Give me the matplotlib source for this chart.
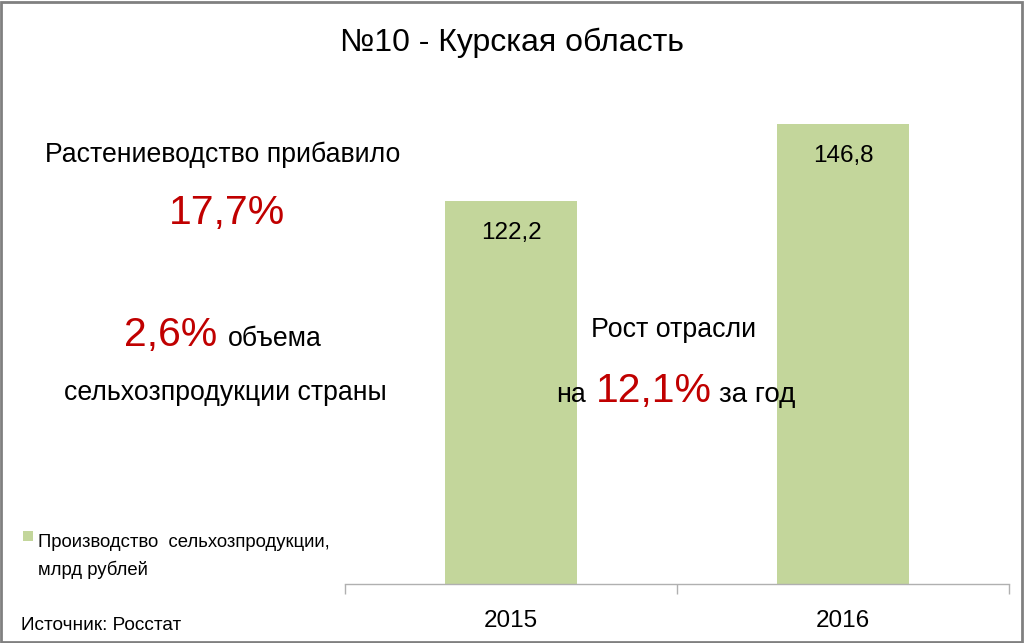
import matplotlib
matplotlib.use("Agg")
import matplotlib.pyplot as plt
from matplotlib.patches import Rectangle

plt.rcParams['font.family'] = ['Liberation Sans', 'DejaVu Sans']

years = ["2015", "2016"]
values = [122.2, 146.8]
value_labels = ["122,2", "146,8"]
series_name = "Производство  сельхозпродукции,\nмлрд рублей"
title = "№10 - Курская область"

green = "#c3d69b"
red = "#c00000"

W, H = 1024, 643
fig = plt.figure(figsize=(W / 100, H / 100), dpi=100)

def fx(px):
    return px / W

def fy(py):
    return 1 - py / H

# chart area
ax = fig.add_axes([fx(345), fy(584), fx(1009) - fx(345), fy(83) - fy(584)])
x = list(range(len(years)))
bars = ax.bar(x, values, width=0.4, color=green)
ax.set_xlim(-0.5, len(years) - 0.5)
ax.set_ylim(0, 160)
for s in ["top", "right", "left"]:
    ax.spines[s].set_visible(False)
ax.spines["bottom"].set_color("#b0b0b0")
ax.spines["bottom"].set_linewidth(1)
ax.set_yticks([])
ax.set_xticks(x)
ax.set_xticklabels(years, fontsize=17.5)
ax.tick_params(axis="x", which="major", length=0, pad=18.5)
ax.set_xticks([-0.5, 0.5, 1.5], minor=True)
ax.tick_params(axis="x", which="minor", length=7, color="#b0b0b0", width=1)

for xi, v, lab in zip(x, values, value_labels):
    ax.annotate(lab, (xi, v), xytext=(0, -27), textcoords="offset points",
                ha="center", va="baseline", fontsize=17.5)

# title
fig.text(0.5, fy(51), title, ha="center", va="baseline", fontsize=23)

# left annotations
fig.text(fx(45), fy(162), "Растениеводство прибавило", ha="left", va="baseline", fontsize=19.2)
fig.text(fx(227), fy(224), "17,7%", ha="center", va="baseline", fontsize=29.5, color=red)
fig.text(fx(124), fy(346), "2,6%", ha="left", va="baseline", fontsize=29.5, color=red)
fig.text(fx(228), fy(346), "объема", ha="left", va="baseline", fontsize=19.2)
fig.text(fx(64), fy(400), "сельхозпродукции страны", ha="left", va="baseline", fontsize=19.2)

# middle annotation
fig.text(fx(674), fy(337), "Рост отрасли", ha="center", va="baseline", fontsize=19.3)
fig.text(fx(556), fy(402), "на", ha="left", va="baseline", fontsize=19.3)
fig.text(fx(596), fy(402), "12,1%", ha="left", va="baseline", fontsize=29.5, color=red)
fig.text(fx(719), fy(402), "за год", ha="left", va="baseline", fontsize=20)

# legend
fig.patches.append(Rectangle((fx(23), fy(541)), fx(10), fy(531) - fy(541),
                             transform=fig.transFigure, facecolor=green, edgecolor="none"))
leg1, leg2 = series_name.split("\n")
fig.text(fx(38), fy(547), leg1, ha="left", va="baseline", fontsize=13.3)
fig.text(fx(38), fy(575), leg2, ha="left", va="baseline", fontsize=13.3)

# source
fig.text(fx(21), fy(630), "Источник: Росстат", ha="left", va="baseline", fontsize=13.7)

# frame around the figure
fig.patches.append(Rectangle((0.001, 0.002), 0.997, 0.995, transform=fig.transFigure,
                             facecolor="none", edgecolor="#808080", linewidth=2))

fig.savefig("out.png", dpi=100)
